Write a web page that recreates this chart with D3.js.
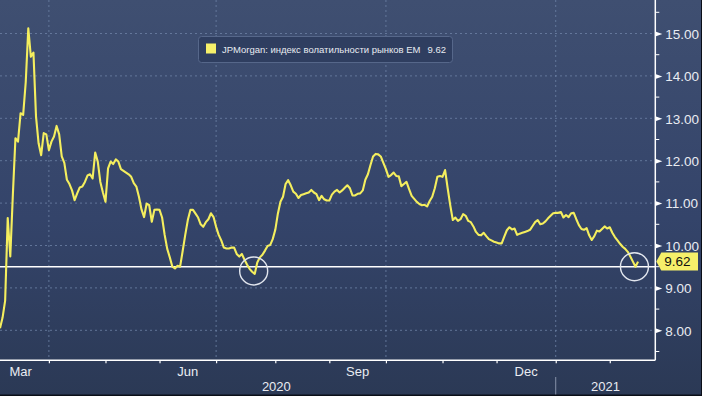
<!DOCTYPE html>
<html><head><meta charset="utf-8">
<script src="https://cdn.jsdelivr.net/npm/d3@7"></script>
<style>
html,body{margin:0;padding:0;background:#2c3a56;overflow:hidden}
text{font-family:"Liberation Sans",Arial,sans-serif}
</style>
</head><body>
<svg id="chart" width="702" height="396"></svg>
<script>
// ---------------- data ----------------
const seriesName = "JPMorgan: индекс волатильности рынков EM";
const startDate = "2020-03-05";          // first trading day shown (weekday calendar)
const endDate = "2021-02-24";            // right edge of the plot
// one value per trading day, starting at startDate
const values = [
  8.05, 8.30, 8.70, 10.65, 9.74, 11.20, 12.53, 12.45, 13.12, 13.08,
  13.85, 15.12, 14.45, 14.55, 13.04, 12.41, 12.13, 12.65, 12.62, 12.25,
  12.45, 12.57, 12.82, 12.62, 12.10, 11.95, 11.55, 11.45, 11.30, 11.07,
  11.23, 11.37, 11.39, 11.50, 11.65, 11.68, 11.58, 12.19, 11.98, 11.50,
  11.25, 11.03, 11.82, 11.98, 11.92, 12.03, 11.98, 11.80, 11.76, 11.72,
  11.68, 11.62, 11.47, 11.39, 11.15, 10.85, 10.67, 10.99, 10.95, 10.56,
  10.84, 10.85, 10.84, 10.66, 10.25, 9.92, 9.72, 9.50, 9.46, 9.52,
  9.50, 9.87, 10.25, 10.60, 10.84, 10.84, 10.75, 10.66, 10.50, 10.44,
  10.55, 10.62, 10.76, 10.67, 10.44, 10.25, 10.12, 9.95, 9.93, 9.93,
  9.95, 9.95, 9.80, 9.74, 9.80, 9.67, 9.55, 9.45, 9.38, 9.33,
  9.60, 9.72, 9.78, 9.88, 9.99, 10.01, 10.15, 10.37, 10.75, 11.03,
  11.15, 11.45, 11.54, 11.42, 11.27, 11.22, 11.12, 11.19, 11.21, 11.23,
  11.25, 11.31, 11.25, 11.21, 11.07, 11.17, 11.09, 11.06, 11.06, 11.20,
  11.27, 11.31, 11.25, 11.30, 11.36, 11.42, 11.35, 11.18, 11.18, 11.22,
  11.23, 11.30, 11.55, 11.68, 11.90, 12.10, 12.16, 12.15, 12.10, 11.95,
  11.80, 11.62, 11.66, 11.72, 11.64, 11.63, 11.40, 11.45, 11.50, 11.33,
  11.17, 11.10, 11.03, 10.98, 10.95, 10.96, 10.92, 11.05, 11.15, 11.35,
  11.62, 11.64, 11.62, 11.78, 11.35, 10.95, 10.60, 10.66, 10.58, 10.62,
  10.74, 10.70, 10.58, 10.55, 10.45, 10.32, 10.25, 10.24, 10.30, 10.22,
  10.15, 10.12, 10.09, 10.07, 10.05, 10.05, 10.21, 10.36, 10.43, 10.38,
  10.40, 10.25, 10.28, 10.30, 10.32, 10.34, 10.37, 10.46, 10.55, 10.60,
  10.50, 10.52, 10.57, 10.64, 10.70, 10.76, 10.77, 10.77, 10.79, 10.66,
  10.72, 10.67, 10.76, 10.77, 10.62, 10.48, 10.39, 10.37, 10.41, 10.24,
  10.13, 10.22, 10.35, 10.33, 10.39, 10.45, 10.40, 10.43, 10.30, 10.20,
  10.12, 10.04, 9.97, 9.92, 9.85, 9.74, 9.62, 9.50, 9.62
];
const lastValue = 9.62;
const refLevel = 9.5;                       // white horizontal reference line
const yTicks = [8, 9, 10, 11, 12, 13, 14, 15];
const yMinorTicks = [7.5, 8.5, 9.5, 10.5, 11.5, 12.5, 13.5, 14.5, 15.5];
const monthLabels = ["Mar", "Jun", "Sep", "Dec"];
const yearLabels = ["2020", "2021"];
const highlightDates = ["2020-07-21", "2021-02-12"];
const highlightLevels = [9.40, 9.50];

// ---------------- layout ----------------
const W = 702, H = 396;
const plotRight = 655.3, plotBottom = 360.3;
const svg = d3.select("#chart");
const parse = d3.utcParse("%Y-%m-%d");
const t0 = parse(startDate);
const isWd = d => { const w = d.getUTCDay(); return w !== 0 && w !== 6; };
function bdIndex(date) {
  if (date >= t0) return d3.utcDays(t0, date).filter(isWd).length;
  return -d3.utcDays(date, t0).filter(isWd).length;
}
const endIdx = bdIndex(parse(endDate)) + 0.7;

const x = d3.scaleLinear().domain([0, endIdx]).range([0, plotRight]);
const y = d3.scaleLinear().domain([8, 15]).range([330.3, 33.5]);

// background gradient
const defs = svg.append("defs");
const grad = defs.append("linearGradient").attr("id", "bg").attr("x1", 0).attr("y1", 0).attr("x2", 0).attr("y2", 1);
grad.append("stop").attr("offset", "0%").attr("stop-color", "#3f4f71");
grad.append("stop").attr("offset", "55%").attr("stop-color", "#34446a");
grad.append("stop").attr("offset", "100%").attr("stop-color", "#2b3955");
svg.append("rect").attr("width", W).attr("height", H).attr("fill", "url(#bg)");
defs.append("clipPath").attr("id", "plotclip").append("rect")
  .attr("x", 0).attr("y", 0).attr("width", plotRight).attr("height", plotBottom);

// month geometry
const months = d3.utcMonths(parse("2020-03-01"), d3.utcMonth.offset(parse(endDate), 2));
const monthIdx = months.map(m => bdIndex(m));
const fmtMon = d3.utcFormat("%b");

// gridlines
const gridColor = "#6b7fa3";
svg.append("g").selectAll("line").data(yTicks).join("line")
  .attr("x1", 0).attr("x2", plotRight)
  .attr("y1", d => y(d)).attr("y2", d => y(d))
  .attr("stroke", gridColor).attr("stroke-width", 1).attr("stroke-dasharray", "2,3").attr("opacity", 0.85);
const quarterIdx = months.filter(m => [3, 6, 9, 0].includes(m.getUTCMonth())).map(m => bdIndex(m))
  .filter(i => x(i) > 0 && x(i) < plotRight);
svg.append("g").selectAll("line").data(quarterIdx).join("line")
  .attr("x1", d => x(d)).attr("x2", d => x(d))
  .attr("y1", 0).attr("y2", plotBottom)
  .attr("stroke", gridColor).attr("stroke-width", 1).attr("stroke-dasharray", "2,3").attr("opacity", 0.85);

// reference line
svg.append("line").attr("x1", 0).attr("x2", plotRight)
  .attr("y1", y(refLevel)).attr("y2", y(refLevel))
  .attr("stroke", "#ffffff").attr("stroke-width", 1.5);

// series line
const line = d3.line().x((d, i) => x(i)).y(d => y(d));
svg.append("path").datum(values)
  .attr("clip-path", "url(#plotclip)")
  .attr("d", line).attr("fill", "none")
  .attr("stroke", "#f4ee5e").attr("stroke-width", 2.1).attr("stroke-linejoin", "round");

// highlight circles
svg.append("g").selectAll("circle").data(highlightDates).join("circle")
  .attr("cx", d => x(bdIndex(parse(d)) + 0.6))
  .attr("cy", (d, i) => y(highlightLevels[i]))
  .attr("r", 14).attr("fill", "none").attr("stroke", "#e2e6ee").attr("stroke-width", 1.4);

// ---------------- axes ----------------
// right axis
const ya = svg.append("g").attr("transform", `translate(${plotRight},0)`)
  .call(d3.axisRight(y).tickValues(yTicks).tickSize(0).tickPadding(10).tickFormat(d3.format(".2f")));
ya.select(".domain").remove();
ya.selectAll("text").attr("fill", "#e9ecf2").style("font-size", "13.5px").attr("dy", "0.35em");
ya.selectAll(".tick").append("path").attr("d", "M0,-2.5L7,0L0,2.5Z").attr("fill", "#ffffff");
svg.append("g").selectAll("line").data(yMinorTicks).join("line")
  .attr("x1", plotRight).attr("x2", plotRight + 4)
  .attr("y1", d => y(d)).attr("y2", d => y(d))
  .attr("stroke", "#ffffff").attr("stroke-width", 1);
svg.append("line").attr("x1", plotRight).attr("x2", plotRight).attr("y1", 0).attr("y2", plotBottom)
  .attr("stroke", "#ffffff").attr("stroke-width", 1.5);

// bottom axis
const tickIdx = monthIdx.filter(i => x(i) > 0 && x(i) < plotRight);
const xa = svg.append("g").attr("transform", `translate(0,${plotBottom})`)
  .call(d3.axisBottom(x).tickValues(tickIdx).tickSize(3).tickFormat(""));
xa.select(".domain").remove();
xa.selectAll("line").attr("stroke", "#ffffff").attr("stroke-width", 1.2);
svg.append("line").attr("x1", 0).attr("x2", plotRight).attr("y1", plotBottom).attr("y2", plotBottom)
  .attr("stroke", "#ffffff").attr("stroke-width", 1.5);

// month labels centred in month intervals (only inside the plot)
const mLab = [];
months.forEach((m, k) => {
  if (k < months.length - 1 && monthLabels.includes(fmtMon(m))) {
    const cx = (x(monthIdx[k]) + x(monthIdx[k + 1])) / 2;
    if (cx > 0 && cx < plotRight - 15) mLab.push({ t: fmtMon(m), cx });
  }
});
svg.append("g").selectAll("text").data(mLab).join("text")
  .attr("x", d => d.cx).attr("y", 375.5).attr("text-anchor", "middle")
  .attr("fill", "#e9ecf2").style("font-size", "13px").text(d => d.t);

// year labels + separator
const yearStartIdx = bdIndex(parse("2021-01-01"));
const yl = [
  { t: yearLabels[0], cx: (Math.max(0, x(bdIndex(parse("2020-03-01")))) + x(yearStartIdx)) / 2 - 1.5 },
  { t: yearLabels[1], cx: (x(yearStartIdx) + plotRight) / 2 }
];
svg.append("g").selectAll("text").data(yl).join("text")
  .attr("x", d => d.cx).attr("y", 391).attr("text-anchor", "middle")
  .attr("fill", "#e9ecf2").style("font-size", "13px").text(d => d.t);
svg.append("line").attr("x1", x(yearStartIdx)).attr("x2", x(yearStartIdx)).attr("y1", 377).attr("y2", H)
  .attr("stroke", "#8793aa").attr("stroke-width", 1);

// last value tag
const ly = y(lastValue);
svg.append("path")
  .attr("d", `M${plotRight + 1},${ly} L${plotRight + 6},${ly - 9} L698,${ly - 9} L698,${ly + 9} L${plotRight + 6},${ly + 9} Z`)
  .attr("fill", "#f6f06a");
svg.append("text").attr("x", plotRight + 9).attr("y", ly).attr("dy", "0.36em")
  .attr("fill", "#111111").style("font-size", "13.5px").text(d3.format(".2f")(lastValue));

// legend
const lg = svg.append("g");
lg.append("rect").attr("x", 198.5).attr("y", 36.5).attr("width", 254).attr("height", 26).attr("rx", 3)
  .attr("fill", "#2f3e60").attr("stroke", "#56678a").attr("stroke-width", 1);
lg.append("rect").attr("x", 206).attr("y", 43.5).attr("width", 10).attr("height", 10).attr("fill", "#f6f06a");
const lt = lg.append("text").attr("x", 222).attr("y", 53).attr("fill", "#e8ebf1")
  .style("font-family", "\"Liberation Sans Narrow\",\"Liberation Sans\",Arial,sans-serif")
  .style("font-size", "11.5px");
lt.append("tspan").text(seriesName);
lt.append("tspan").attr("dx", 7).text(d3.format(".2f")(lastValue));
// fit the legend text to the width it has in the box
const targetW = 217;
const curW = lt.node().getComputedTextLength();
if (Math.abs(curW - targetW) > 3) {
  lt.style("font-size", (11.5 * targetW / curW).toFixed(2) + "px");
}

// borders
svg.append("rect").attr("x", 0).attr("y", H - 1.5).attr("width", W).attr("height", 1.5).attr("fill", "#0b0f18");
svg.append("rect").attr("x", W - 1).attr("y", 0).attr("width", 1).attr("height", H).attr("fill", "#0b0f18");
</script>
</body></html>
